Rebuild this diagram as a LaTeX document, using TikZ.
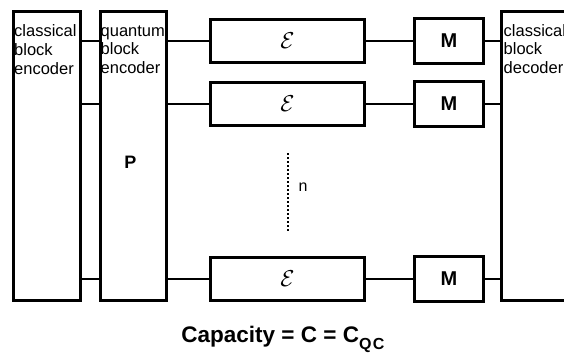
\documentclass[tikz,border=0pt]{standalone}
\usepackage{fontspec}
\setmainfont{Liberation Sans}
\usetikzlibrary{positioning}

\tikzset{
  % shared base
  blk/.style={
    rectangle, draw=black, line width=3pt,
    fill=white, inner sep=0pt,
  },
  % block shortcuts
  tallBlk/.style ={blk, minimum width=#1, minimum height=289pt},
  chanBlk/.style ={blk, minimum width=154pt, minimum height=43pt},
  measBlk/.style ={blk, minimum width=69pt, minimum height=45pt,
                   font=\fontsize{20}{20}\selectfont\bfseries},
  blkText/.style ={inner sep=0pt, align=left,
                   font=\fontsize{16.5}{18.7}\selectfont},
  % lines
  wire/.style    ={line width=2pt, draw=black},
  dotLine/.style ={line width=2.6pt, dash pattern=on 2.4pt off 1.6pt},
}

\newcommand{\chanSym}{\scalebox{2.3}{$\mathcal{E}$}}

\begin{document}
\begin{tikzpicture}[x=1pt, y=-1pt]

\useasboundingbox (0,0) rectangle (564,356);
\clip (0,0) rectangle (564,356);

% ---------------------------------------------------------------
%  encoders
% ---------------------------------------------------------------
\node[tallBlk=67pt] (cenc) at (47,156) {};
\node[tallBlk=66pt] (qenc) at (133.5,156) {};

\node[blkText, below right=14.5pt and 2pt of cenc.north west] (cencText)
  {classical\\block\\encoder};
\node[blkText, below right=13pt and 1.5pt of qenc.north west] (qencText)
  {\strut quantum\\block\\encoder};

\node[font=\fontsize{18}{18}\selectfont\bfseries, inner sep=0pt] (perm)
  at (130.5,162.5) {P};

% ---------------------------------------------------------------
%  channels
% ---------------------------------------------------------------
\node[chanBlk] (eps1) at (287.5,41)  {\chanSym};
\node[chanBlk] (eps2) at (287.5,104) {\chanSym};
\node[chanBlk] (eps3) at (287.5,279) {\chanSym};

% ---------------------------------------------------------------
%  measurements
% ---------------------------------------------------------------
\node[measBlk] (m1) at (449,41)  {M};
\node[measBlk] (m2) at (449,104) {M};
\node[measBlk] (m3) at (449,279) {M};

% ---------------------------------------------------------------
%  decoder (runs off the right edge)
% ---------------------------------------------------------------
\node[tallBlk=120pt] (dec) at (561.5,156) {};
\node[blkText, below right=13pt and 3.5pt of dec.north west] (decText)
  {\strut classical\\block\\decoder};

% ---------------------------------------------------------------
%  wires
% ---------------------------------------------------------------
\draw[wire] (cenc.east |- eps1) -- (qenc.west |- eps1);
\draw[wire] (cenc.east |- eps2) -- (qenc.west |- eps2);
\draw[wire] (cenc.east |- eps3) -- (qenc.west |- eps3);

\draw[wire] (qenc.east |- eps1) -- (eps1);
\draw[wire] (qenc.east |- eps2) -- (eps2);
\draw[wire] (qenc.east |- eps3) -- (eps3);

\draw[wire] (eps1) -- (m1);
\draw[wire] (eps2) -- (m2);
\draw[wire] (eps3) -- (m3);

\draw[wire] (m1) -- (dec.west |- m1);
\draw[wire] (m2) -- (dec.west |- m2);
\draw[wire] (m3) -- (dec.west |- m3);

% n copies
\coordinate (dotTop) at (288,153);
\coordinate (dotBot) at (288,232);
\draw[dotLine] (dotTop) -- (dotBot);
\node[font=\fontsize{16}{16}\selectfont, inner sep=0pt] (nText)
  at (303,187) {n};

% ---------------------------------------------------------------
%  caption
% ---------------------------------------------------------------
\node[anchor=base, inner sep=0pt, font=\fontsize{22.5}{22.5}\selectfont\bfseries]
  (capText) at (283,342)
  {Capacity = C = C\raisebox{-7pt}{\fontsize{16}{16}\selectfont Q\kern1.5pt C}};

\end{tikzpicture}
\end{document}
